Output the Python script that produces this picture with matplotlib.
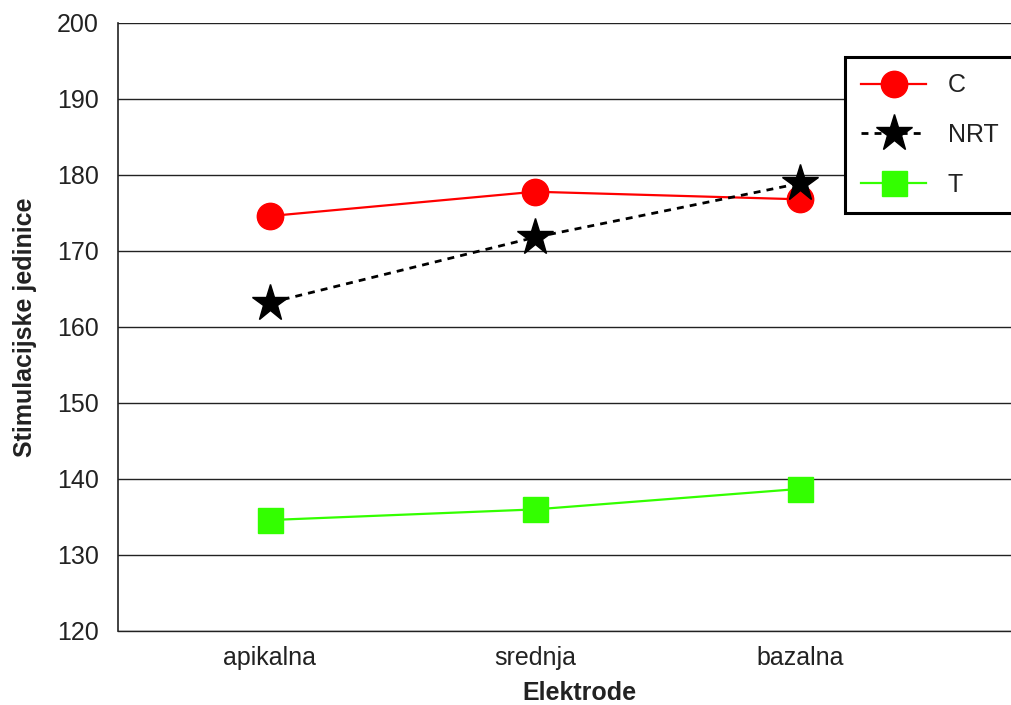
import matplotlib
matplotlib.use("Agg")
import matplotlib.pyplot as plt

categories = ["apikalna", "srednja", "bazalna"]
c_values = [174.6, 177.8, 176.8]
nrt_values = [163.2, 171.8, 178.9]
t_values = [134.6, 136.0, 138.7]
yticks = [120, 130, 140, 150, 160, 170, 180, 190, 200]

plt.rcParams['font.family'] = ['Liberation Sans', 'DejaVu Sans']

W, H = 1011, 705
fig = plt.figure(figsize=(W / 100, H / 100), dpi=100)
left, right, top, bottom = 118, 1040, 23, 631
ax = fig.add_axes([left / W, 1 - bottom / H, (right - left) / W, (bottom - top) / H])

x = list(range(len(categories)))
ax.plot(x, c_values, color='#ff0000', lw=1.6, marker='o', ms=19,
        label='C', zorder=3)
ax.plot(x, nrt_values, color='black', lw=2.0, ls=(0, (2.5, 2.2)), marker='*', ms=28,
        label='NRT', zorder=4)
ax.plot(x, t_values, color='#33ff00', lw=1.6, marker='s', ms=18,
        label='T', zorder=3)

xspacing = 265
ax.set_xlim(-(270 - left) / xspacing, (right - 270) / xspacing)
ax.set_ylim(120, 200)
ax.set_xticks(x)
ax.set_xticklabels(categories)
ax.set_yticks(yticks)
ax.yaxis.grid(True, color='#222222', lw=1.0)
ax.set_axisbelow(True)
ax.tick_params(axis='both', length=0, labelsize=18, colors='#222222')
ax.tick_params(axis='y', pad=14)
ax.tick_params(axis='x', pad=11)
for s in ['right', 'top']:
    ax.spines[s].set_visible(False)
ax.spines['left'].set_color('#222222')
ax.spines['left'].set_linewidth(1.2)
ax.spines['bottom'].set_color('#222222')
ax.spines['bottom'].set_linewidth(1.0)

ax.set_ylabel('Stimulacijske jedinice', fontsize=18, fontweight='bold', color='#222222', labelpad=14)
ax.set_xlabel('Elektrode', fontsize=18, fontweight='bold', color='#222222', labelpad=8)

leg = ax.legend(loc='upper left', bbox_to_anchor=(845 / W, 1 - 57 / H),
                bbox_transform=fig.transFigure, fontsize=18, frameon=True,
                fancybox=False, borderaxespad=0, borderpad=0.65,
                handlelength=2.6, handletextpad=0.85, labelspacing=1.03,
                labelcolor='#222222')
leg.get_frame().set_edgecolor('black')
leg.get_frame().set_linewidth(2.2)
leg.get_frame().set_facecolor('white')
leg.get_frame().set_alpha(1)

fig.savefig('out.png', dpi=100)
